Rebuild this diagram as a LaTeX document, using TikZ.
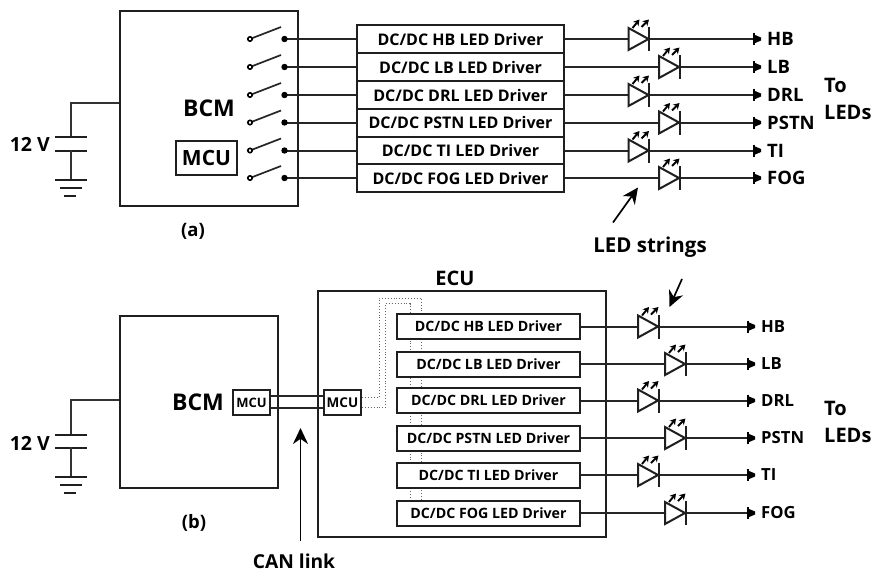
\documentclass[tikz,border=0pt]{standalone}
\usepackage{fontspec}
\setmainfont{Open Sans}
\usetikzlibrary{arrows.meta}
\tikzset{
  x=1pt,y=-1pt,
  ln/.style={line width=2pt,draw=black!88},
  wire/.style={line width=2pt,draw=black!85},
  thinw/.style={line width=1.6pt,draw=black!80},
  blk/.style={rectangle,draw=black!88,line width=2pt,fill=white,inner sep=0pt},
  drva/.style={blk,minimum width=207pt,minimum height=28pt,font=\fontsize{16}{16}\selectfont\bfseries},
  drvb/.style={blk,minimum width=183pt,minimum height=25pt,font=\fontsize{14.2}{14.2}\selectfont\bfseries},
  lab/.style={inner sep=0pt,font=\fontsize{18.5}{18.5}\selectfont\bfseries},
  labb/.style={inner sep=0pt,font=\fontsize{16.7}{16.7}\selectfont\bfseries},
  big/.style={inner sep=0pt,font=\fontsize{23}{23}\selectfont\bfseries},
  dotw/.style={line width=.9pt,draw=black!60,dotted},
  call/.style={line width=1.7pt,draw=black,-{Stealth[length=16pt,width=15pt]}},
  termtip/.style={fill=black,draw=none},
}
% \ledsym{x}{y}: light emitting diode with its anode at (x,y)
\newcommand{\ledsym}[2]{%
  \begin{scope}[shift={(#1,#2)}]
    \fill[white] (0,-11)--(0,11)--(20,0)--cycle;
    \draw[ln,line join=miter] (0,-11)--(0,11)--(20,0)--cycle;
    \draw[ln] (20.5,-12)--(20.5,12);
    \draw[line width=1.9pt,-{Stealth[length=6pt,width=7pt]}] (4,-11)--(11,-19.5);
    \draw[line width=1.9pt,-{Stealth[length=6pt,width=7pt]}] (13,-12)--(20.5,-19.5);
  \end{scope}}
% \termsym{x}{y}: output terminal
\newcommand{\termsym}[2]{%
  \draw[line width=2.8pt] (#1,#2-6)--(#1,#2+6);
  \fill[termtip] (#1,#2-4.5)--(#1+7,#2-1.5)--(#1+7,#2+1.5)--(#1,#2+4.5)--cycle;}
\begin{document}
\begin{tikzpicture}
\useasboundingbox (0,0) rectangle (884,574);
\fill[white] (0,0) rectangle (884,574);

%%%%% (a)
\node[blk,minimum width=178pt,minimum height=195pt] (bcmA) at (209,108.5) {};
\draw[ln] (119.5,11)--(119.5,52);
\node[big] (bcmAt) at (209,108) {BCM};
\node[blk,minimum width=61pt,minimum height=34pt,font=\fontsize{21}{21}\selectfont\bfseries] (mcuA) at (206.5,158) {MCU};
\coordinate (capA) at (71,137);
\coordinate (capAb) at (71,150);
\coordinate (gndA) at (71,179.5);
\draw[thinw] (bcmA.west|-0,103)--(71,103)--(capA);
\draw[ln] (55,137)--(87,137) (55,150.5)--(87,150.5);
\draw[thinw] (capAb)--(gndA);
\draw[ln] (55,179.5)--(87,179.5);
\draw[ln] (60,188)--(82,188) (64,196)--(76,196);
\node[lab,anchor=east,font=\fontsize{19.5}{19.5}\selectfont\bfseries] (vA) at (50,144) {12 V};
\node[lab] (capa) at (193,231) {(a)};

\foreach \i/\y/\lx/\lab/\t in {
  1/39/628.5/HB/HB,
  2/67/659/LB/LB,
  3/95/628.5/DRL/DRL,
  4/122.5/659/PSTN/PSTN,
  5/150.5/628.5/TI/TI,
  6/178/659/FOG/FOG}{
  \node[drva] (da\i) at (460.5,\y) {DC/DC \lab{} LED Driver};
  \coordinate (swl\i) at (250,\y);
  \coordinate (swt\i) at (281,\y-12);
  \coordinate (swr\i) at (284.5,\y);
  \coordinate (la\i) at (\lx,\y);
  \coordinate (lk\i) at (\lx+20,\y);
  \coordinate (ta\i) at (754,\y);
  \draw[wire] (swr\i)--(da\i.west);
  \draw[wire] (da\i.east)--(la\i);
  \draw[wire] (lk\i)--(ta\i);
  \ledsym{\lx}{\y}
  \termsym{754}{\y}
  \draw[line width=1.7pt,draw=black!85] (swl\i)--(swt\i);
  \filldraw[fill=white,draw=black,line width=1.6pt] (swl\i) circle (2.2pt);
  \fill[black] (swr\i) circle (3.2pt);
  \node[lab,anchor=west] (ola\i) at (767,\y) {\t};
}
\node[lab,anchor=west,font=\fontsize{20}{20}\selectfont\bfseries] (toA) at (824,85) {To};
\node[lab,anchor=west,font=\fontsize{20}{20}\selectfont\bfseries] (leA) at (824,112.5) {LEDs};
\coordinate (arA) at (613,222.5);
\coordinate (arAt) at (638,187.5);
\draw[call] (arA)--(arAt);
\node[lab,font=\fontsize{20.5}{20.5}\selectfont\bfseries] (strs) at (650,247.5) {LED strings};
\coordinate (arB) at (682,279);
\coordinate (arBt) at (669.5,307);
\draw[call] (arB)--(arBt);

%%%%% (b)
\node[blk,minimum width=158pt,minimum height=172pt] (bcmB) at (199,402) {};
\node[big] (bcmBt) at (198,402) {BCM};
\node[blk,minimum width=288pt,minimum height=246pt] (ecu) at (462,414) {};
\node[lab,font=\fontsize{20}{20}\selectfont\bfseries] (ecut) at (455,278) {ECU};
\node[blk,minimum width=37pt,minimum height=25pt,font=\fontsize{13}{13}\selectfont\bfseries] (mcuB) at (251.5,402.5) {MCU};
\node[blk,minimum width=37pt,minimum height=25pt,font=\fontsize{13.5}{13.5}\selectfont\bfseries] (mcuC) at (342.5,402.5) {MCU};
\draw[wire] (mcuB.east|-0,396)--(mcuC.west|-0,396);
\draw[wire] (mcuB.east|-0,408)--(mcuC.west|-0,408);
\draw[dotw] (mcuC.east|-0,397)--(379,397)--(379,298)--(421.7,298)--(421.7,500);
\draw[dotw] (mcuC.east|-0,407)--(385.7,407)--(385.7,303.5)--(410,303.5)--(410,500);

\coordinate (capB) at (71,434);
\coordinate (capBb) at (71,447);
\coordinate (gndB) at (71,477);
\draw[thinw] (bcmB.west|-0,400)--(71,400)--(capB);
\draw[ln] (55,434.5)--(87,434.5) (55,447.5)--(87,447.5);
\draw[thinw] (capBb)--(gndB);
\draw[ln] (55,477)--(87,477);
\draw[ln] (60,485)--(82,485) (64,493)--(76,493);
\node[lab,anchor=east,font=\fontsize{19.5}{19.5}\selectfont\bfseries] (vB) at (50,443) {12 V};
\node[lab] (capb) at (194,523) {(b)};

\foreach \i/\y/\lx/\lab/\t in {
  1/326.5/638/HB/HB,
  2/364/665/LB/LB,
  3/400.5/638/DRL/DRL,
  4/438/665/PSTN/PSTN,
  5/475/638/TI/TI,
  6/513/665/FOG/FOG}{
  \node[drvb] (db\i) at (488.5,\y) {DC/DC \lab{} LED Driver};
  \coordinate (lb\i) at (\lx,\y);
  \coordinate (mb\i) at (\lx+20,\y);
  \coordinate (tb\i) at (748,\y);
  \draw[wire] (db\i.east)--(lb\i);
  \draw[wire] (mb\i)--(tb\i);
  \ledsym{\lx}{\y}
  \termsym{748}{\y}
  \node[labb,anchor=west] (olb\i) at (761,\y) {\t};
}
\node[lab,anchor=west,font=\fontsize{20}{20}\selectfont\bfseries] (toB) at (824,408) {To};
\node[lab,anchor=west,font=\fontsize{20}{20}\selectfont\bfseries] (leB) at (824,435.5) {LEDs};
\coordinate (arC) at (300.5,541);
\coordinate (arCt) at (300.5,428);
\draw[call] (arC)--(arCt);
\node[lab,font=\fontsize{19.2}{19.2}\selectfont\bfseries] (canl) at (294,561) {CAN link};
\end{tikzpicture}
\end{document}
